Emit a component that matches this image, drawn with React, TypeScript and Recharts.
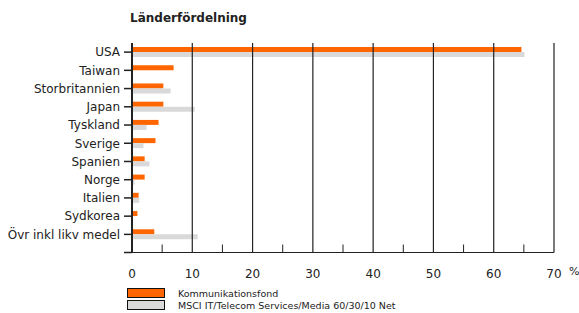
import { BarChart, Bar, XAxis, YAxis, ReferenceLine } from 'recharts';

const countries = [
  'USA',
  'Taiwan',
  'Storbritannien',
  'Japan',
  'Tyskland',
  'Sverige',
  'Spanien',
  'Norge',
  'Italien',
  'Sydkorea',
  'Övr inkl likv medel',
];
const fundValues = [64.6, 6.9, 5.2, 5.2, 4.4, 3.9, 2.1, 2.1, 1.1, 0.9, 3.7];
const indexValues = [65.1, 0, 6.4, 10.4, 2.4, 1.9, 2.9, 0.4, 1.2, 0, 10.9];
const xTicks = [0, 5, 10, 15, 20, 25, 30, 35, 40, 45, 50, 55, 60, 65, 70];
const gridValues = [10, 20, 30, 40, 50, 60, 70];
const seriesNames = ['Kommunikationsfond', 'MSCI IT/Telecom Services/Media 60/30/10 Net'];

const ORANGE = '#ff6600';
const GREY = '#d9d9d9';
const INK = '#222';
const FONT = '"DejaVu Sans", sans-serif';

const data = countries.map((name, i) => ({
  name,
  fund: fundValues[i],
  index: indexValues[i],
}));

const XTick = (props: any) => {
  const { x, y, payload } = props;
  const v = payload.value as number;
  const major = v % 10 === 0;
  return (
    <g>
      {!major && <line x1={x} x2={x} y1={y - 8} y2={y} stroke={INK} strokeWidth={1} />}
      {v === 0 && <line x1={x - 8} x2={x} y1={y} y2={y} stroke={INK} strokeWidth={1.5} />}
      {major && (
        <text x={x} y={y + 25} textAnchor="middle" fontSize={12} fontFamily={FONT} fill={INK}>
          {v}
        </text>
      )}
      {v === 70 && (
        <text x={x + 15} y={y + 22} textAnchor="start" fontSize={11} fontFamily={FONT} fill={INK}>
          %
        </text>
      )}
    </g>
  );
};

const LegendRow = ({ color, label, top }: { color: string; label: string; top: number }) => (
  <div style={{ position: 'absolute', left: 127, top, height: 10, display: 'flex', alignItems: 'center' }}>
    <div style={{ width: 36, height: 8, background: color, border: '1px solid #111' }} />
    <span style={{ marginLeft: 13, fontSize: 9.5, fontFamily: FONT, color: INK, whiteSpace: 'nowrap' }}>
      {label}
    </span>
  </div>
);

export default function App() {
  return (
    <div style={{ position: 'absolute', left: 0, top: 0, width: 579, height: 313, background: '#fff' }}>
      <div
        style={{
          position: 'absolute',
          left: 130,
          top: 11,
          fontSize: 12,
          lineHeight: '14px',
          fontWeight: 'bold',
          fontFamily: FONT,
          color: INK,
        }}
      >
        Länderfördelning
      </div>
      <BarChart
        width={579}
        height={313}
        data={data}
        layout="vertical"
        margin={{ top: 43, right: 25, bottom: 30.5, left: 0 }}
        barGap={0}
      >
        <XAxis
          type="number"
          domain={[0, 70]}
          ticks={xTicks}
          interval={0}
          tickSize={0}
          tickMargin={0}
          tickLine={false}
          tick={<XTick />}
          axisLine={{ stroke: INK, strokeWidth: 1.2 }}
          height={30}
        />
        <YAxis
          type="category"
          dataKey="name"
          width={132}
          padding={{ top: 0, bottom: 9 }}
          tickSize={8}
          tickMargin={4}
          tickLine={{ stroke: INK, strokeWidth: 1.5 }}
          axisLine={{ stroke: INK, strokeWidth: 2 }}
          tick={{ fontSize: 12, fontFamily: FONT, fill: INK }}
          interval={0}
        />
        {gridValues.map((v) => (
          <ReferenceLine key={v} x={v} stroke={INK} strokeWidth={1.2} />
        ))}
        <Bar dataKey="fund" name={seriesNames[0]} fill={ORANGE} barSize={5} isAnimationActive={false} />
        <Bar dataKey="index" name={seriesNames[1]} fill={GREY} barSize={5} isAnimationActive={false} />
      </BarChart>
      <LegendRow color={ORANGE} label={seriesNames[0]} top={288} />
      <LegendRow color={GREY} label={seriesNames[1]} top={300} />
    </div>
  );
}
